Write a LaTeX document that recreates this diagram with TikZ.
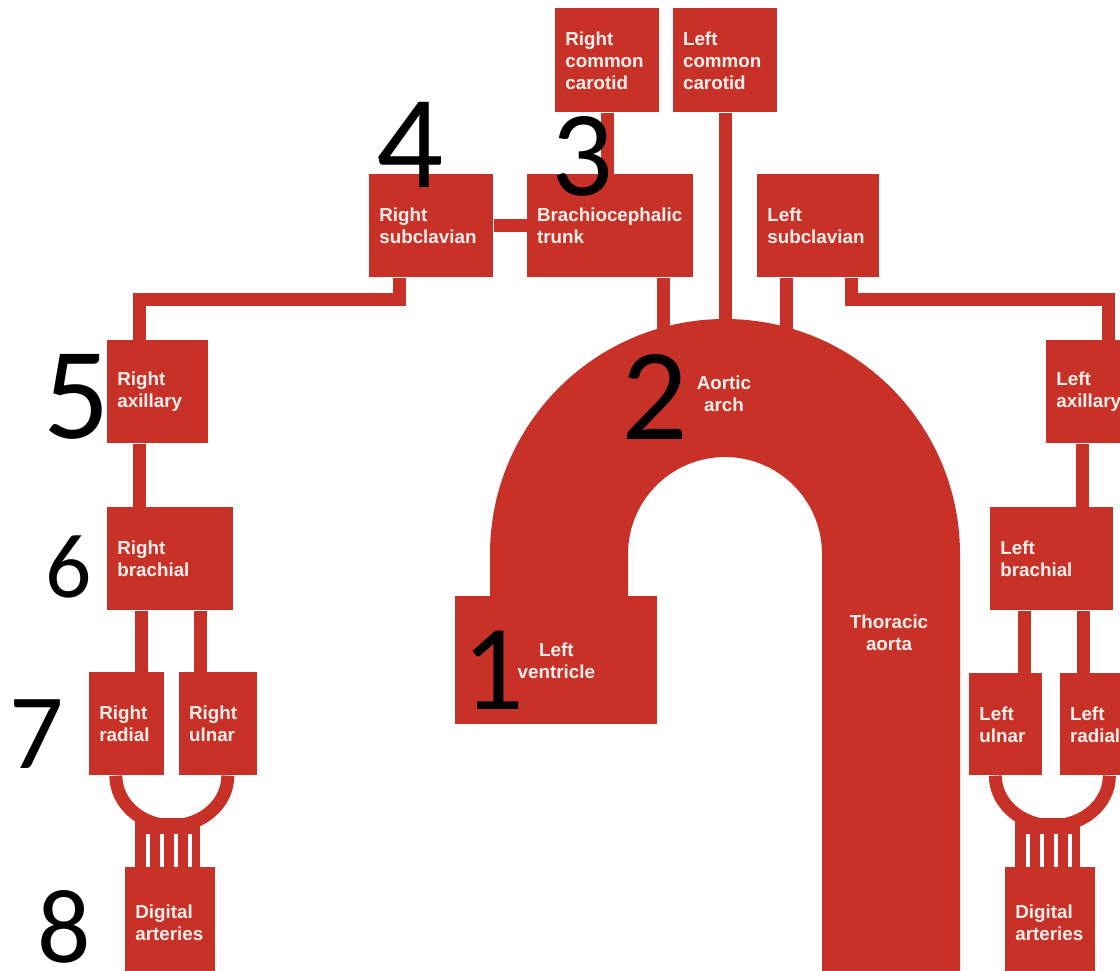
\documentclass[tikz,border=0pt]{standalone}
\usepackage{fontspec}
\usepackage{tikz}
\usetikzlibrary{positioning}

\newfontfamily\labelfont{Liberation Sans}
\newfontfamily\numfont{Carlito}
\definecolor{artery}{RGB}{200,49,39}
\definecolor{labelwhite}{RGB}{250,238,234}
\newcommand{\px}{0.02cm}

\begin{document}
\begin{tikzpicture}[
    x=\px, y=-\px,
    organ/.style={fill=artery, text=labelwhite, font=\labelfont\bfseries\fontsize{10.7}{12.5}\selectfont, align=left, anchor=north west, inner xsep=10*\px, inner ysep=0pt},
    boxsize/.style 2 args={minimum width=#1*\px, minimum height=#2*\px, text width=(#1-20)*\px},
    tag/.style={text=labelwhite, font=\labelfont\bfseries\fontsize{10.7}{12.5}\selectfont, align=center},
    vessel/.style={draw=artery, line width=13*\px},
    slit/.style={draw=white, line width=4*\px},
    num/.style={font=\numfont\fontsize{#1}{#1}\selectfont, anchor=base, inner sep=0pt}
]
    \useasboundingbox (0,0) rectangle (1120,971);
    \clip (0,0) rectangle (1120,971);

    % Aortic arch and thoracic aorta
    \fill[artery] (490,600) -- (490,554) arc[start angle=180, end angle=0, radius=235*\px] -- (960,980) -- (822,980) -- (822,554) arc[start angle=0, end angle=180, radius=97*\px] -- (628,600) -- cycle;
    \coordinate (archtop) at (725,345);

    % Neck
    \node[organ, boxsize={104}{104}] (rcc) at (555,8) {Right\\common\\carotid};
    \node[organ, boxsize={104}{104}, right=0.26cm of rcc] (lcc) {Left\\common\\carotid};

    % Subclavians
    \node[organ, boxsize={124}{103}] (rsub) at (369,174) {Right\\subclavian};
    \node[organ, boxsize={166}{103}, right=0.66cm of rsub] (brach) {\mbox{Brachiocephalic}\\trunk};
    \node[organ, boxsize={122}{103}] (lsub) at (757,174) {Left\\subclavian};

    % Heart
    \node[organ, boxsize={202}{128}, align=center] (lv) at (455,596) {Left\\ventricle};
    \node[tag] (arch) at (724,394) {Aortic\\arch};
    \node[tag] (thoracic) at (889,633) {Thoracic\\aorta};

    % Right arm
    \node[organ, boxsize={101}{103}] (rax) at (107,340) {Right\\axillary};
    \node[organ, boxsize={126}{103}] (rbra) at (107,507) {Right\\brachial};
    \node[organ, boxsize={75}{103}] (rrad) at (89,672) {Right\\radial};
    \node[organ, boxsize={78}{103}, right=0.28cm of rrad] (ruln) {Right\\ulnar};
    \node[organ, boxsize={90}{110}] (rdig) at (125,867) {Digital\\arteries};

    % Left arm
    \node[organ, boxsize={99}{103}] (lax) at (1046,340) {Left\\axillary};
    \node[organ, boxsize={123}{103}] (lbra) at (990,507) {Left\\brachial};
    \node[organ, boxsize={73}{102}] (luln) at (969,673) {Left\\ulnar};
    \node[organ, boxsize={75}{102}, right=0.34cm of luln] (lrad) {Left\\radial};
    \node[organ, boxsize={90}{110}] (ldig) at (1005,867) {Digital\\arteries};

    % Vessels
    \draw[vessel] (rsub.east) -- (brach.west);
    \draw[vessel] (rcc.south) -- (rcc.south |- brach.north);
    \draw[vessel] (lcc.south) -- (lcc.south |- archtop);
    \draw[vessel] (brach.south east) ++(-30,0) coordinate (bstem) -- (bstem |- archtop);
    \draw[vessel] (lsub.south west) ++(29.5,0) coordinate (lstem) -- (lstem |- archtop);

    \draw[vessel] (rsub.south west) ++(30,0) -- ++(0,21.5) -| ([xshift=-18*\px]rax.north);
    \draw[vessel] (lsub.south east) ++(-28,0) -- ++(0,21.5) -| ([xshift=13*\px]lax.north);

    \draw[vessel] ([xshift=-18*\px]rax.south) -- ([xshift=-18*\px]rax.south |- rbra.north);
    \draw[vessel] ([xshift=-13*\px]lax.south) -- ([xshift=-13*\px]lax.south |- lbra.north);
    \draw[vessel] ([xshift=14.5*\px]rrad.north) -- ([xshift=14.5*\px]rrad.north |- rbra.south);
    \draw[vessel] ([xshift=-18*\px]ruln.north) -- ([xshift=-18*\px]ruln.north |- rbra.south);
    \draw[vessel] ([xshift=19*\px]luln.north) -- ([xshift=19*\px]luln.north |- lbra.south);
    \draw[vessel] ([xshift=-14.5*\px]lrad.north) -- ([xshift=-14.5*\px]lrad.north |- lbra.south);

    % Palmar arches
    \draw[vessel] ([xshift=-11*\px]rrad.south) arc[start angle=180, end angle=360, x radius=56*\px, y radius=50*\px];
    \draw[vessel] ([xshift=-10.5*\px]luln.south) arc[start angle=180, end angle=360, x radius=57*\px, y radius=50*\px];

    % Fingers
    \fill[artery] (rdig.north west) ++(10,0) rectangle ++(65,-49);
    \fill[artery] (ldig.north west) ++(10,0) rectangle ++(65,-49);
    \foreach \d in {23,37,51,65} {
        \draw[slit] (rdig.north west) ++(\d,0) -- ++(0,-33);
        \draw[slit] (ldig.north west) ++(\d,0) -- ++(0,-33);
    }

    % Numbers
    \node[num=69.3] (one) at (493,709) {1};
    \node[num=74.6] (two) at (655,439) {2};
    \node[num=69.3] (three) at (582,195) {3};
    \node[num=75.5] (four) at (410,187) {4};
    \node[num=74.6] (five) at (77,438) {5};
    \node[num=52] (six) at (69,597) {6};
    \node[num=61] (seven) at (37,768) {7};
    \node[num=60] (eight) at (64,962) {8};
\end{tikzpicture}
\end{document}
